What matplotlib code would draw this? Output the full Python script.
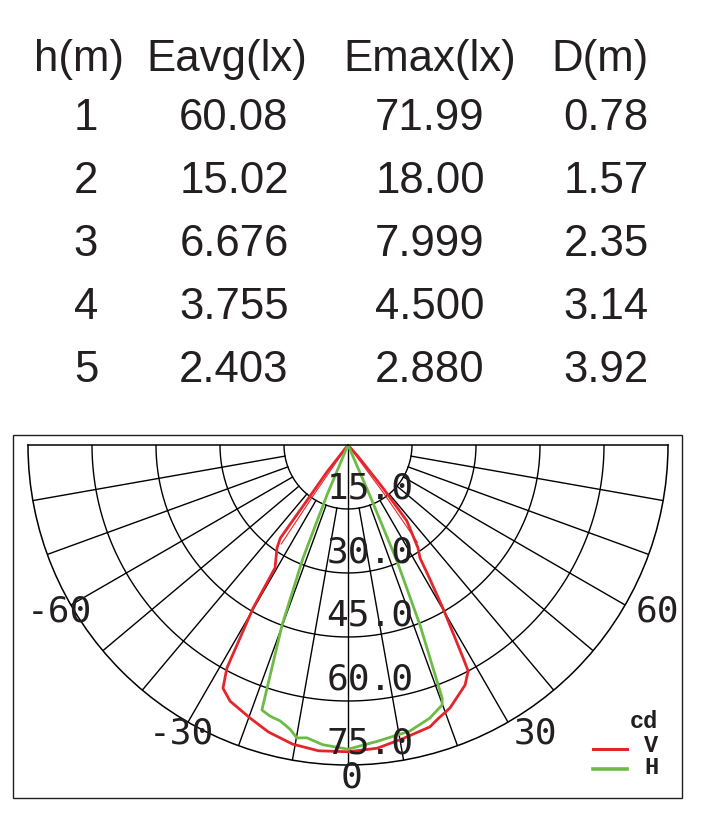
import numpy as np
import matplotlib
matplotlib.use('Agg')
import matplotlib.pyplot as plt
from matplotlib.lines import Line2D
from matplotlib.patches import Rectangle

# table values
headers = ['h(m)', 'Eavg(lx)', 'Emax(lx)', 'D(m)']
heights = ['1', '2', '3', '4', '5']
eavg = ['60.08', '15.02', '6.676', '3.755', '2.403']
emax = ['71.99', '18.00', '7.999', '4.500', '2.880']
diam = ['0.78', '1.57', '2.35', '3.14', '3.92']

# light distribution curves: angle (deg, 0 = straight down), intensity (cd)
v_deg = [-40, -38, -36.5, -36, -34.6, -30.7, -30.2, -28.5, -27.2, -24.7, -19.7,
         -15.5, -10.5, -5.5, 0, 5.5, 10.6, 16.2, 18.1, 21.2, 26, 28, 28.4, 30.2,
         31.6, 32.5, 34.2, 37.8, 39.1, 41, 43]
v_cd = [0, 8, 16, 27, 29.3, 33.5, 44.2, 59.5, 64.1, 66.1, 68.0,
        69.8, 71.3, 72.0, 71.9, 71.4, 70.0, 68.8, 67.6, 66.1, 62.6, 60.0, 56.7, 44.2,
        35.8, 31.4, 29.2, 22.5, 13, 4, 0]
# thin red traces near the source (left and right)
v2l_deg = [-34.5, -34.5, -34.0]
v2l_cd = [0, 14, 28]
v2r_deg = [37.0, 36.5, 35.5]
v2r_cd = [0, 14, 28]
h_deg = [-24, -22.8, -21.7, -20.1, -18, -16.1, -13.8, -11.5, -9.9, -8, -4.8, 0,
         5.6, 12.2, 16.7, 19.9, 20.4, 21.8, 22.9, 23.4, 24.3]
h_cd = [0, 12.7, 28.5, 45, 65.3, 66.1, 66.6, 68.0, 69.7, 69.3, 70.5, 71.3,
        69.8, 68.6, 66.8, 64.8, 63.3, 45.4, 29.5, 13, 0]

rings = [15, 30, 45, 60, 75]
spokes = list(range(-80, 90, 10))
angle_labels = [-60, -30, 0, 30, 60]

red = '#e3262b'
green = '#6cbb45'
ink = '#231f20'

W, H = 711, 834
fig = plt.figure(figsize=(W / 100, H / 100), dpi=100)


def fx(px):
    return px / W


def fy(py):
    return 1 - py / H


# --- table on top ---
tfont = dict(family='Liberation Sans', fontsize=31.5, color=ink)
head_x = [79, 227, 430, 600]
col_x = [86, 234, 430, 606]
for x, s in zip(head_x, headers):
    fig.text(fx(x), fy(60), s, ha='center', va='center', **tfont)
for i, row in enumerate(zip(heights, eavg, emax, diam)):
    y = 118 + i * 63.2
    for x, s in zip(col_x, row):
        fig.text(fx(x), fy(y), s, ha='center', va='center', **tfont)

# --- frame around the polar diagram ---
fig.add_artist(Rectangle((fx(13), fy(798)), fx(682) - fx(13), fy(435) - fy(798),
                         transform=fig.transFigure, fill=False, lw=1.0,
                         edgecolor=ink))

# --- polar diagram ---
# the half-wedge sits in the vertical middle of a square axes box
cx, cy, R = 348, 445, 320
ax = fig.add_axes([fx(cx - R), fy(cy - R / 2 + 2 * R), 2 * R / W, 2 * R / H],
                  projection='polar')
ax.set_theta_zero_location('S')
ax.set_thetamin(-90)
ax.set_thetamax(90)
ax.set_ylim(0, 75)
ax.grid(False)
ax.set_xticks([])
ax.set_yticks([])
ax.patch.set_alpha(0)
for sp in ax.spines.values():
    sp.set_linewidth(1.1)
    sp.set_color('black')

th = np.radians(np.linspace(-90, 90, 361))
for r in rings[:-1]:
    ax.plot(th, np.full_like(th, r), color='black', lw=1.0)
for a in spokes:
    r0 = 0 if a == 0 else rings[0]
    ax.plot([np.radians(a)] * 2, [r0, rings[-1]], color='black', lw=1.0)

mono = dict(family='DejaVu Sans Mono', fontsize=26, color=ink)
for r in rings:
    ax.annotate(f'{r:.1f}', xy=(0, r), xytext=(22, 21), textcoords='offset pixels',
                ha='center', va='center', **mono)
for a in angle_labels:
    shift = 21 if a > 0 else (4 if a == 0 else 0)
    ax.annotate(str(a), xy=(np.radians(a), 78), xytext=(shift, 0),
                textcoords='offset pixels', ha='center', va='center',
                annotation_clip=False, **mono)

ax.plot(np.radians(v2l_deg), v2l_cd, color=red, lw=0.8)
ax.plot(np.radians(v2r_deg), v2r_cd, color=red, lw=0.8)
ax.plot(np.radians(v_deg), v_cd, color=red, lw=2.0)
ax.plot(np.radians(h_deg), h_cd, color=green, lw=2.0)

# --- legend ---
lfont = dict(family='Liberation Mono', fontsize=17, fontweight='bold', color=ink)
fig.text(fx(658), fy(721), 'cd', ha='right', va='center', **lfont)
fig.text(fx(651), fy(745), 'V', ha='center', va='center', **lfont)
fig.text(fx(651), fy(767), 'H', ha='center', va='center', **lfont)
fig.add_artist(Line2D([fx(593), fx(627)], [fy(749), fy(749)], color=red, lw=2.2,
                      transform=fig.transFigure))
fig.add_artist(Line2D([fx(593), fx(627)], [fy(769), fy(769)], color=green, lw=2.6,
                      transform=fig.transFigure))

fig.savefig('out.png', dpi=100)
